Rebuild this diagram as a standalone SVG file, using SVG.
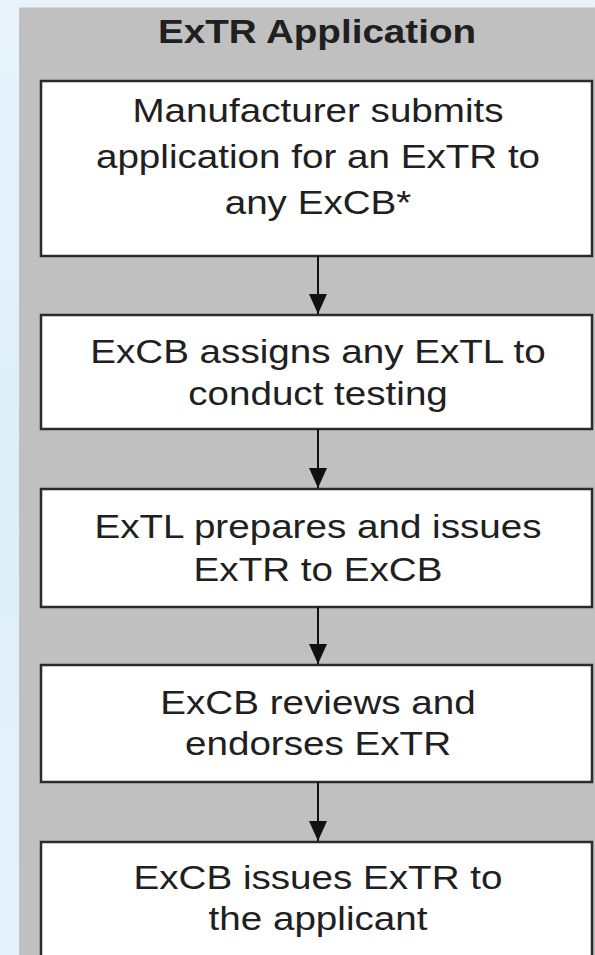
<svg xmlns="http://www.w3.org/2000/svg" width="595" height="955" viewBox="0 0 595 955">
  <defs>
    <linearGradient id="bg" x1="0" y1="0" x2="0" y2="1">
      <stop offset="0" stop-color="#e8f3fb"/>
      <stop offset="0.5" stop-color="#ddeef9"/>
      <stop offset="1" stop-color="#e6f2fb"/>
    </linearGradient>
    <marker id="arr" markerWidth="20" markerHeight="18" refX="20" refY="9" orient="auto" markerUnits="userSpaceOnUse" viewBox="0 0 20 18">
      <path d="M0,0 L20,9 L0,18 Z" fill="#111"/>
    </marker>
  </defs>
  <style>
    .box { fill: #ffffff; stroke: #2b2b2b; stroke-width: 2.5; }
    .t { font-family: "Liberation Sans", Arial, sans-serif; font-size: 33px; fill: #202020; text-anchor: middle; }
    .title { font-weight: bold; }
    .conn { stroke: #111; stroke-width: 2; fill: none; }
  </style>
  <rect x="0" y="0" width="595" height="955" fill="url(#bg)"/>
  <rect id="panel" x="19" y="7.5" width="600" height="960" fill="#c0c0c0"/>
  <text class="t title" transform="translate(317 43) scale(1.17 1)">ExTR Application</text>

  <g id="n1">
    <rect class="box" x="41" y="81" width="551" height="175"/>
    <text class="t" transform="translate(318 122) scale(1.17 1)">Manufacturer submits</text>
    <text class="t" transform="translate(318 168) scale(1.17 1)">application for an ExTR to</text>
    <text class="t" transform="translate(318 214) scale(1.17 1)">any ExCB*</text>
  </g>
  <g id="n2">
    <rect class="box" x="41" y="315" width="551" height="114"/>
    <text class="t" transform="translate(318 363) scale(1.17 1)">ExCB assigns any ExTL to</text>
    <text class="t" transform="translate(318 405) scale(1.17 1)">conduct testing</text>
  </g>
  <g id="n3">
    <rect class="box" x="41" y="489" width="551" height="118"/>
    <text class="t" transform="translate(318 538) scale(1.17 1)">ExTL prepares and issues</text>
    <text class="t" transform="translate(318 581) scale(1.17 1)">ExTR to ExCB</text>
  </g>
  <g id="n4">
    <rect class="box" x="41" y="665" width="551" height="117"/>
    <text class="t" transform="translate(318 714) scale(1.17 1)">ExCB reviews and</text>
    <text class="t" transform="translate(318 755) scale(1.17 1)">endorses ExTR</text>
  </g>
  <g id="n5">
    <rect class="box" x="41" y="842" width="551" height="130"/>
    <text class="t" transform="translate(318 889) scale(1.17 1)">ExCB issues ExTR to</text>
    <text class="t" transform="translate(318 930) scale(1.17 1)">the applicant</text>
  </g>

  <g id="connectors">
    <line class="conn" x1="318" y1="256" x2="318" y2="314" marker-end="url(#arr)"/>
    <line class="conn" x1="318" y1="429" x2="318" y2="488" marker-end="url(#arr)"/>
    <line class="conn" x1="318" y1="607" x2="318" y2="664" marker-end="url(#arr)"/>
    <line class="conn" x1="318" y1="782" x2="318" y2="841" marker-end="url(#arr)"/>
  </g>
</svg>
